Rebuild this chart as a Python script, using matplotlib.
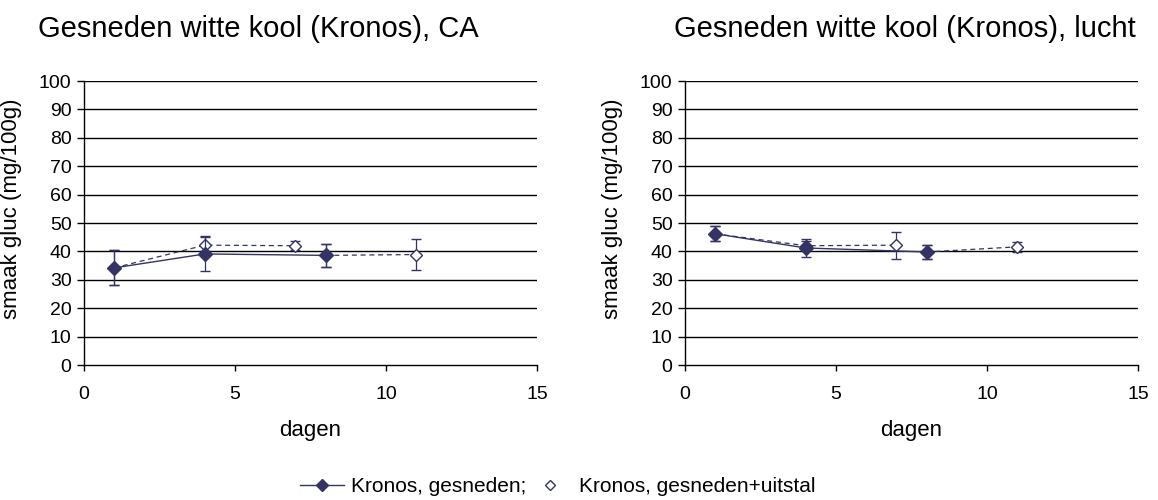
import matplotlib
matplotlib.use("Agg")
import matplotlib.pyplot as plt
from matplotlib.lines import Line2D

plt.rcParams['font.family'] = ['Liberation Sans', 'DejaVu Sans']

titles = ["Gesneden witte kool (Kronos), CA", "Gesneden witte kool (Kronos), lucht"]
series_names = ["Kronos, gesneden;", "Kronos, gesneden+uitstal"]
x_label = "dagen"
y_label = "smaak gluc (mg/100g)"

# CA
ca_cut_days = [1, 4, 8]
ca_cut_vals = [34.2, 39.1, 38.6]
ca_cut_err = [6.2, 6.1, 4.1]
ca_disp_days = [1, 4, 7, 8, 11]
ca_disp_vals = [34.2, 42.2, 42.0, 38.6, 38.9]
ca_disp_err = [6.2, 3.1, 1.6, 4.1, 5.4]

# lucht
lu_cut_days = [1, 4, 8]
lu_cut_vals = [46.2, 41.2, 39.8]
lu_cut_err = [2.7, 3.2, 2.35]
lu_disp_days = [1, 4, 7, 8, 11]
lu_disp_vals = [46.2, 42.0, 42.2, 39.8, 41.6]
lu_disp_err = [2.7, 1.5, 4.7, 2.35, 1.8]

# the dashed line of the display series is interrupted between day 7 and day 8
disp_break = 3

col = '#333366'
W, H = 1158, 500

fig = plt.figure(figsize=(W / 100, H / 100), dpi=100)
ax_left_px = [84, 685]
ax_w_px = 453
ax_top_px, ax_bot_px = 81, 365
axes = [fig.add_axes([l / W, 1 - ax_bot_px / H, ax_w_px / W, (ax_bot_px - ax_top_px) / H])
        for l in ax_left_px]
title_pos = [(258 / W, 1 - 29 / H), (905 / W, 1 - 29 / H)]

data = [(ca_cut_days, ca_cut_vals, ca_cut_err, ca_disp_days, ca_disp_vals, ca_disp_err),
        (lu_cut_days, lu_cut_vals, lu_cut_err, lu_disp_days, lu_disp_vals, lu_disp_err)]

for ax, title, tpos, (cd, cv, ce, dd, dv, de) in zip(axes, titles, title_pos, data):
    ax.set_xlim(0, 15)
    ax.set_ylim(0, 100)
    ax.set_yticks(range(0, 101, 10))
    ax.set_xticks([0, 5, 10, 15])
    for y in range(10, 101, 10):
        ax.axhline(y, color='black', lw=1.0, zorder=1)
    # display series: error bars + open markers, line in two pieces
    ax.errorbar(dd, dv, yerr=de, color=col, ls='none', marker='D', ms=6.5,
                mfc='white', mec=col, mew=1.0, capsize=3.5, elinewidth=0.9, zorder=3)
    ax.plot(dd[:disp_break], dv[:disp_break], color=col, ls=(0, (4, 3)), lw=0.9, zorder=3)
    ax.plot(dd[disp_break:], dv[disp_break:], color=col, ls=(0, (4, 3)), lw=0.9, zorder=3)
    # cut series
    ax.errorbar(cd, cv, yerr=ce, color=col, ls='-', lw=1.0, marker='D', ms=7,
                mfc=col, mec=col, capsize=3.5, elinewidth=0.9, zorder=4)
    for s in ['top', 'right']:
        ax.spines[s].set_visible(False)
    ax.spines['left'].set_linewidth(1.0)
    ax.spines['bottom'].set_linewidth(1.0)
    ax.tick_params(axis='y', direction='out', length=5, width=1.0, labelsize=14, pad=4)
    ax.tick_params(axis='x', direction='out', length=4, width=1.0, labelsize=14, pad=11)
    ax.set_ylabel(y_label, fontsize=16)
    ax.yaxis.set_label_coords(-0.137, 0.55)
    ax.set_xlabel(x_label, fontsize=16, va='top')
    ax.xaxis.set_label_coords(0.5, -0.195)
    fig.text(tpos[0], tpos[1], title, fontsize=21, ha='center', va='center')

h1 = Line2D([], [], color=col, lw=1.0, marker='D', ms=6.5, mfc=col, mec=col)
h2 = Line2D([], [], color=col, lw=0, marker='D', ms=5.5, mfc='white', mec=col)
fig.legend([h1, h2], series_names, loc='center left', bbox_to_anchor=(300 / W, 1 - 487 / H),
           ncol=2, frameon=False, fontsize=15, handlelength=2.1, columnspacing=0.1,
           handletextpad=0.35, borderpad=0, borderaxespad=0)

fig.savefig("out.png", dpi=100)
